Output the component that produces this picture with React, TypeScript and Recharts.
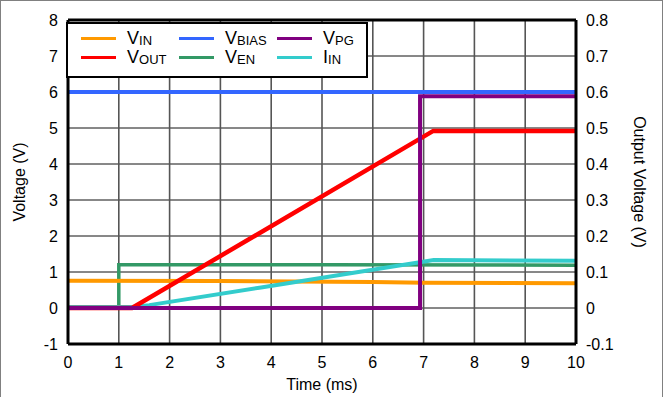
import React from "react"
import {
  LineChart, Line, XAxis, YAxis, CartesianGrid, Legend, ReferenceLine,
} from "recharts"

type Pt = { t: number; v: number }

// time axis (ms) and voltage ticks
const TIME_TICKS = [0, 1, 2, 3, 4, 5, 6, 7, 8, 9, 10]
const VOLT_TICKS = [-1, 0, 1, 2, 3, 4, 5, 6, 7, 8]
const OUT_TICKS = [-0.1, 0, 0.1, 0.2, 0.3, 0.4, 0.5, 0.6, 0.7, 0.8]

// startup waveforms
const VIN: Pt[] = [
  { t: 0, v: 0.76 }, { t: 3, v: 0.75 }, { t: 6, v: 0.72 }, { t: 7, v: 0.7 }, { t: 10, v: 0.69 },
]
const VBIAS: Pt[] = [{ t: 0, v: 6.0 }, { t: 10, v: 6.0 }]
const VEN: Pt[] = [
  { t: 0, v: 0 }, { t: 1.0, v: 0 }, { t: 1.0, v: 1.2 }, { t: 5, v: 1.2 }, { t: 10, v: 1.19 },
]
const VPG: Pt[] = [
  { t: 0, v: 0 }, { t: 6.93, v: 0 }, { t: 6.93, v: 5.88 }, { t: 10, v: 5.88 },
]
const IIN: Pt[] = [
  { t: 0, v: 0.03 }, { t: 1.26, v: 0.03 }, { t: 1.6, v: 0.08 }, { t: 3.8, v: 0.57 },
  { t: 7.2, v: 1.33 }, { t: 10, v: 1.31 },
]
// output voltage, read on the right axis
const VOUT: Pt[] = [
  { t: 0, v: 0 }, { t: 1.26, v: 0 }, { t: 7.19, v: 0.492 }, { t: 10, v: 0.492 },
]

const SERIES = [
  { key: "vin", main: "V", sub: "IN", color: "#ff9900" },
  { key: "vbias", main: "V", sub: "BIAS", color: "#3366ff" },
  { key: "vpg", main: "V", sub: "PG", color: "#800080" },
  { key: "vout", main: "V", sub: "OUT", color: "#ff0000" },
  { key: "ven", main: "V", sub: "EN", color: "#339966" },
  { key: "iin", main: "I", sub: "IN", color: "#33cccc" },
]
const color = (k: string) => SERIES.find((s) => s.key === k)!.color

const FONT = "'Liberation Sans', Arial, sans-serif"
const tickStyle = { fontSize: 16, fill: "#000", fontFamily: FONT }

function LegendBox() {
  return (
    <div
      style={{
        boxSizing: "border-box",
        width: 302,
        height: 56,
        background: "#fff",
        border: "2px solid #000",
        padding: "5px 0 0 13px",
        display: "grid",
        gridTemplateColumns: "98px 98px 98px",
        gridAutoRows: "19px",
        fontFamily: FONT,
      }}
    >
      {SERIES.map((s) => (
        <div key={s.key} style={{ display: "flex", alignItems: "center" }}>
          <span style={{ width: 35, height: 3, background: s.color, display: "inline-block" }} />
          <span style={{ marginLeft: 11, fontSize: 18, lineHeight: "19px", color: "#000" }}>
            {s.main}
            <span style={{ fontSize: 13, position: "relative", top: 1 }}>{s.sub}</span>
          </span>
        </div>
      ))}
    </div>
  )
}

export default function App() {
  return (
    <div style={{ position: "absolute", left: 0, top: 0, width: 668, height: 397, background: "#fff", overflow: "hidden" }}>
      {/* outer frame */}
      <div
        style={{
          position: "absolute", left: 0, top: 0, width: 663, height: 400,
          boxSizing: "border-box", border: "1px solid #808080",
        }}
      />
      <LineChart
        width={668}
        height={397}
        margin={{ top: 20, right: 0, bottom: 0, left: 0 }}
        style={{ position: "absolute", left: 0, top: 0 }}
      >
        {/* horizontal lines crisp black, vertical ones softer grey */}
        <CartesianGrid stroke="#111" strokeWidth={1} vertical={false} />
        <CartesianGrid stroke="#555" strokeWidth={1.6} horizontal={false} />
        <XAxis
          type="number"
          dataKey="t"
          domain={[0, 10]}
          ticks={TIME_TICKS}
          height={53}
          tickSize={0}
          tickMargin={13}
          tick={tickStyle}
          axisLine={{ stroke: "#000", strokeWidth: 3 }}
          label={{ value: "Time (ms)", position: "insideBottom", offset: 7, style: { ...tickStyle } }}
        />
        <YAxis
          type="number"
          domain={[-1, 8]}
          ticks={VOLT_TICKS}
          width={68}
          tickSize={0}
          tickMargin={10}
          tick={tickStyle}
          axisLine={{ stroke: "#000", strokeWidth: 3 }}
          label={{
            value: "Voltage (V)", angle: -90, position: "insideLeft", offset: 19,
            style: { ...tickStyle, textAnchor: "middle" },
          }}
        />
        <YAxis
          yAxisId="right"
          orientation="right"
          type="number"
          domain={[-0.1, 0.8]}
          ticks={OUT_TICKS}
          width={92}
          tickSize={0}
          tickMargin={10}
          tick={tickStyle}
          axisLine={{ stroke: "#000", strokeWidth: 3 }}
          label={{
            value: "Output Voltage (V)", angle: 90, position: "insideRight", offset: 28,
            style: { ...tickStyle, textAnchor: "middle" },
          }}
        />
        <ReferenceLine y={8} stroke="#000" strokeWidth={3} />
        <Line data={VEN} dataKey="v" stroke={color("ven")} strokeWidth={3.5} dot={false} isAnimationActive={false} />
        <Line data={VIN} dataKey="v" stroke={color("vin")} strokeWidth={4} dot={false} isAnimationActive={false} />
        <Line data={IIN} dataKey="v" stroke={color("iin")} strokeWidth={4} dot={false} isAnimationActive={false} />
        <Line data={VBIAS} dataKey="v" stroke={color("vbias")} strokeWidth={4} dot={false} isAnimationActive={false} />
        <Line yAxisId="right" data={VOUT} dataKey="v" stroke={color("vout")} strokeWidth={4.5} dot={false} isAnimationActive={false} />
        <Line data={VPG} dataKey="v" stroke={color("vpg")} strokeWidth={4} dot={false} isAnimationActive={false} />
        <Legend
          layout="vertical"
          align="center"
          verticalAlign="middle"
          content={() => <LegendBox />}
          wrapperStyle={{ position: "absolute", left: 66, top: 22, width: 302, height: 56 }}
        />
      </LineChart>
    </div>
  )
}
